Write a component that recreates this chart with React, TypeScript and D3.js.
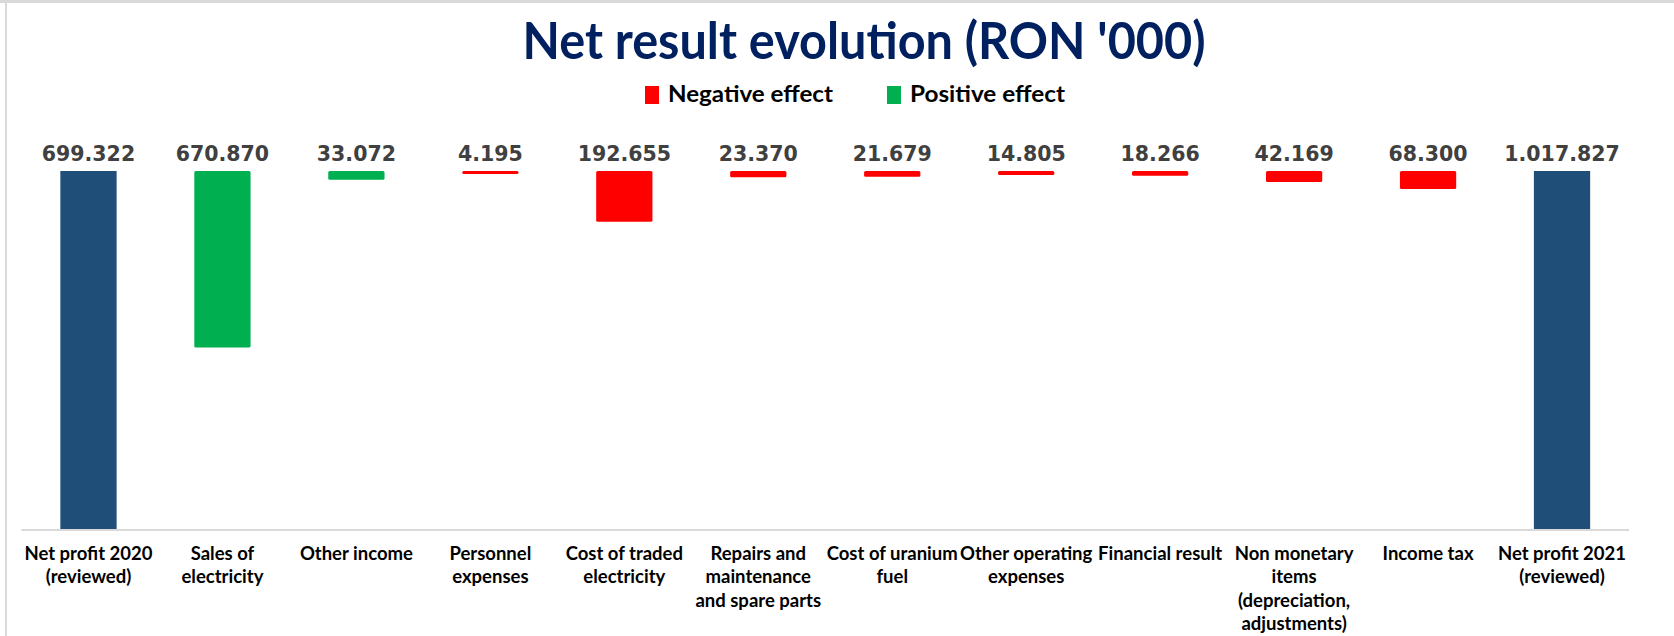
import React from "react";
import * as d3 from "d3";

// values in RON '000
const categories = [
  "Net profit 2020\n(reviewed)",
  "Sales of\nelectricity",
  "Other income",
  "Personnel\nexpenses",
  "Cost of traded\nelectricity",
  "Repairs and\nmaintenance\nand spare parts",
  "Cost of uranium\nfuel",
  "Other operating\nexpenses",
  "Financial result",
  "Non monetary\nitems\n(depreciation,\nadjustments)",
  "Income tax",
  "Net profit 2021\n(reviewed)",
];
const values = [699322, 670870, 33072, 4195, 192655, 23370, 21679, 14805, 18266, 42169, 68300, 1017827];
const kinds = ["total", "pos", "pos", "neg", "neg", "neg", "neg", "neg", "neg", "neg", "neg", "total"];
const legendItems = ["Negative effect", "Positive effect"];
// level the effects hang from (totals are drawn up to it)
const anchorLevel = 1360000;

const W = 1674;
const H = 636;
const colors: Record<string, string> = { total: "#1F4E79", pos: "#00B050", neg: "#FF0000" };

const fmt = d3.formatLocale({ decimal: ",", thousands: ".", grouping: [3], currency: ["", ""] }).format(",d");

export default function App() {
  const x = d3.scaleBand<number>().domain(d3.range(categories.length)).range([21.5, 1629]).paddingInner(0.58).paddingOuter(0.29);
  const y = d3.scaleLinear().domain([0, anchorLevel]).range([529, 171]);
  const top = y(anchorLevel);

  return (
    <svg width={W} height={H} style={{ position: "absolute", left: 0, top: 0, background: "#fff" }}>
      <line x1={0} x2={W} y1={1.5} y2={1.5} stroke="#d9d9d9" strokeWidth={3} />
      <line x1={6} x2={6} y1={0} y2={H} stroke="#d9d9d9" strokeWidth={2} />

      <text x={864} y={59} textAnchor="middle" fill="#002060" fontFamily="Lato, sans-serif" fontWeight={700} fontSize={52} textLength={683} lengthAdjust="spacingAndGlyphs">
        Net result evolution (RON '000)
      </text>

      {legendItems.map((t, i) => {
        const lx = i === 0 ? 645 : 887;
        return (
          <g key={t}>
            <rect x={lx} y={86} width={14} height={18} fill={i === 0 ? colors.neg : colors.pos} />
            <text x={lx + 23} y={102} fontFamily="Lato, sans-serif" fontWeight={700} fontSize={22} fill="#000" textLength={i === 0 ? 165 : 155} lengthAdjust="spacingAndGlyphs">
              {t}
            </text>
          </g>
        );
      })}

      {values.map((v, i) => {
        const bx = x(i)!;
        const bw = x.bandwidth();
        const h = kinds[i] === "total" ? y(0) - top : Math.max(y(anchorLevel - v) - top, 3);
        return (
          <g key={i}>
            <rect x={bx} y={top} width={bw} height={h} fill={colors[kinds[i]]} rx={kinds[i] === "total" ? 0 : 1.5} />
            <text x={bx + bw / 2} y={top - 10} textAnchor="middle" fontFamily="'DejaVu Sans', sans-serif" fontWeight={700} fontSize={20.5} fill="#404040">
              {fmt(v)}
            </text>
          </g>
        );
      })}

      <line x1={21.5} x2={1629} y1={y(0) + 1} y2={y(0) + 1} stroke="#d9d9d9" strokeWidth={2} />

      {categories.map((c, i) => (
        <text key={c} x={x(i)! + x.bandwidth() / 2} y={560} textAnchor="middle" fontFamily="Lato, sans-serif" fontWeight={700} fontSize={18.5} fill="#000">
          {c.split("\n").map((ln, j) => (
            <tspan key={j} x={x(i)! + x.bandwidth() / 2} dy={j === 0 ? 0 : 23.3}>
              {ln}
            </tspan>
          ))}
        </text>
      ))}
    </svg>
  );
}
